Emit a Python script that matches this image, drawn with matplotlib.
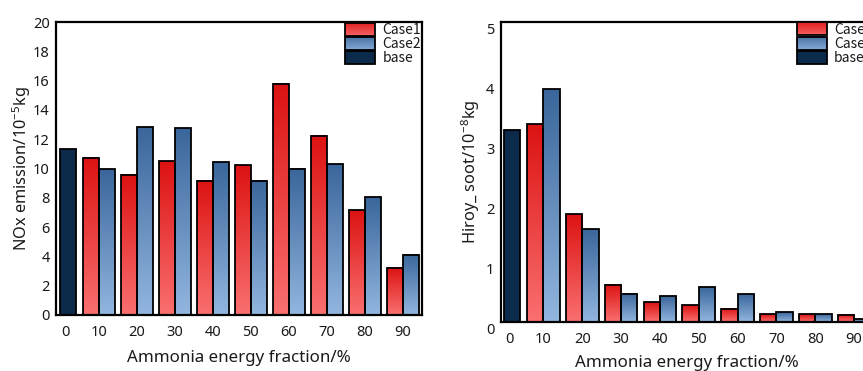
import numpy as np
import matplotlib
matplotlib.use('Agg')
import matplotlib.pyplot as plt
from matplotlib.colors import LinearSegmentedColormap
from matplotlib.patches import Rectangle
from matplotlib.legend_handler import HandlerBase
from matplotlib.transforms import ScaledTranslation

# ---------------- data ----------------
fraction_labels = ['0', '10', '20', '30', '40', '50', '60', '70', '80', '90']
nox_base = 11.3
nox_case1 = [10.75, 9.57, 10.5, 9.16, 10.23, 15.8, 12.23, 7.15, 3.23]
nox_case2 = [9.95, 12.8, 12.76, 10.43, 9.18, 10.0, 10.3, 8.04, 4.1]
soot_base = 3.2
soot_case1 = [3.29, 1.80, 0.62, 0.33, 0.28, 0.22, 0.13, 0.13, 0.12]
soot_case2 = [3.87, 1.54, 0.47, 0.43, 0.58, 0.46, 0.16, 0.13, 0.04]
series_names = ['Case1', 'Case2', 'base']

# ---------------- style ----------------
plt.rcParams['font.family'] = ['Noto Sans', 'DejaVu Sans']
plt.rcParams['mathtext.fontset'] = 'custom'
plt.rcParams['mathtext.rm'] = 'Noto Sans'
plt.rcParams['mathtext.it'] = 'Noto Sans'

red_cmap = LinearSegmentedColormap.from_list('r', ['#fa7070', '#dc1212'])
blue_cmap = LinearSegmentedColormap.from_list('b', ['#92b6df', '#3a669b'])
base_color = '#0c2b4b'
EDGE_LW = 1.3
TICK_FS = 10.5
LABEL_FS = 12.2
LEG_FS = 10
TXT = '#1a1a1a'

fig = plt.figure(figsize=(8.63, 3.71), dpi=100)
ax1 = fig.add_axes([56 / 863, (371 - 315) / 371, 365.7 / 863, 293 / 371])
ax2 = fig.add_axes([500.7 / 863, (371 - 321.7) / 371, 372.8 / 863, 300 / 371])


def gradient_fill(ax, bars, cmap):
    grad = np.linspace(1, 0, 256).reshape(-1, 1)
    for b in bars:
        x0, y0 = b.get_x(), b.get_y()
        w, h = b.get_width(), b.get_height()
        ax.imshow(grad, cmap=cmap, vmin=0, vmax=1, extent=[x0, x0 + w, y0, y0 + h],
                  origin='upper', aspect='auto', interpolation='bicubic', zorder=1)
        b.set_facecolor('none')
        b.set_zorder(2)


class GradHandler(HandlerBase):
    def __init__(self, cmap=None, color=None):
        super().__init__()
        self.cmap = cmap
        self.color = color

    def create_artists(self, legend, orig_handle, xdescent, ydescent, width, height, fontsize, trans):
        arts = []
        if self.cmap is not None:
            n = 30
            for k in range(n):
                r = Rectangle((-xdescent, -ydescent + height * k / n), width, height / n + 0.3,
                              facecolor=self.cmap(0.15 + 0.7 * (k + 0.5) / n), edgecolor='none',
                              transform=trans)
                arts.append(r)
            arts.append(Rectangle((-xdescent, -ydescent), width, height, facecolor='none',
                                  edgecolor='black', lw=EDGE_LW, transform=trans))
        else:
            arts.append(Rectangle((-xdescent, -ydescent), width, height, facecolor=self.color,
                                  edgecolor='black', lw=EDGE_LW, transform=trans))
        return arts


def draw(ax, base, c1, c2, ylim, yticks, ylabel, xlim, yshift=0.0):
    w = 0.42
    idx = np.arange(1, len(c1) + 1)
    base_pos = 0.19
    ax.bar([base_pos], [base], width=w, color=base_color, edgecolor='black', lw=EDGE_LW, zorder=2)
    b1 = ax.bar(idx - w / 2, c1, width=w, edgecolor='black', lw=EDGE_LW)
    b2 = ax.bar(idx + w / 2, c2, width=w, edgecolor='black', lw=EDGE_LW)
    gradient_fill(ax, b1, red_cmap)
    gradient_fill(ax, b2, blue_cmap)
    ax.set_xlim(*xlim)
    ax.set_ylim(*ylim)
    ax.set_yticks(yticks)
    ax.set_xticks(np.concatenate([[0.13], idx]))
    ax.set_xticklabels(fraction_labels)
    ax.tick_params(axis='both', length=0, labelsize=TICK_FS, colors=TXT)
    ax.tick_params(axis='x', pad=7.5)
    ax.tick_params(axis='y', pad=4.5)
    for s in ax.spines.values():
        s.set_linewidth(1.6)
        s.set_zorder(5)
    ax.set_xlabel('Ammonia energy fraction/%', fontsize=LABEL_FS, color=TXT)
    ax.set_ylabel(ylabel, fontsize=LABEL_FS - 0.4, color=TXT)
    if yshift:
        off = ScaledTranslation(0, -yshift / 100, fig.dpi_scale_trans)
        for lab in ax.get_yticklabels():
            lab.set_transform(lab.get_transform() + off)
    h1 = Rectangle((0, 0), 1, 1)
    h2 = Rectangle((0, 0), 1, 1)
    h3 = Rectangle((0, 0), 1, 1)
    leg = ax.legend([h1, h2, h3], series_names, loc='upper right', bbox_to_anchor=(1, 1),
                    borderaxespad=0, borderpad=0.05, frameon=False, labelspacing=0,
                    handlelength=2.15, handleheight=1.07, handletextpad=0.55,
                    prop={'family': ['Noto Sans CJK JP', 'DejaVu Sans'], 'size': LEG_FS},
                    handler_map={h1: GradHandler(cmap=red_cmap), h2: GradHandler(cmap=blue_cmap),
                                 h3: GradHandler(color=base_color)})
    for t in leg.get_texts():
        t.set_color(TXT)
    leg.set_zorder(6)


draw(ax1, nox_base, nox_case1, nox_case2, (0, 20), np.arange(0, 21, 2),
     r'NOx emission/10$^{-5}$kg', (-0.123, 9.5))
draw(ax2, soot_base, soot_case1, soot_case2, (0, 5), np.arange(0, 6, 1),
     r'Hiroy_ soot/10$^{-8}$kg', (-0.099, 9.5), yshift=6.7)

ax1.xaxis.set_label_coords(0.5, -0.118)
ax2.xaxis.set_label_coords(0.5, -0.11)
ax1.yaxis.set_label_coords(-0.063, 0.5)
ax2.yaxis.set_label_coords(-0.05, 0.5)

fig.savefig('out.png', dpi=100)
